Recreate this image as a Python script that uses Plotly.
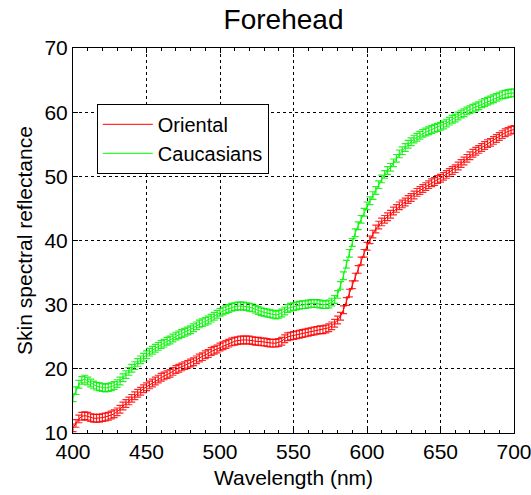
import plotly.graph_objects as go

wavelength = list(range(400, 701, 2))

oriental = [
    10.8, 11.5, 12.2, 12.6, 12.7, 12.6, 12.4, 12.3, 12.3, 12.3,
    12.4, 12.5, 12.6, 12.8, 13.0, 13.3, 13.7, 14.2, 14.6, 15.0,
    15.4, 15.8, 16.2, 16.5, 16.9, 17.2, 17.5, 17.8, 18.1, 18.4,
    18.7, 18.9, 19.1, 19.3, 19.6, 19.9, 20.1, 20.3, 20.5, 20.7,
    20.9, 21.1, 21.4, 21.7, 21.9, 22.2, 22.4, 22.7, 22.9, 23.1,
    23.4, 23.6, 23.8, 24.0, 24.2, 24.3, 24.4, 24.5, 24.5, 24.5,
    24.5, 24.4, 24.3, 24.3, 24.2, 24.2, 24.1, 24.0, 24.0, 24.0,
    24.1, 24.3, 24.7, 25.0, 25.1, 25.2, 25.3, 25.4, 25.5, 25.6,
    25.7, 25.8, 25.9, 26.0, 26.1, 26.1, 26.2, 26.4, 26.7, 27.1,
    27.6, 28.2, 29.2, 30.5, 31.8, 33.1, 34.3, 35.5, 36.8, 38.0,
    39.1, 40.1, 41.0, 41.8, 42.4, 42.9, 43.3, 43.7, 44.1, 44.6,
    45.0, 45.4, 45.7, 46.0, 46.4, 46.7, 47.1, 47.5, 47.8, 48.1,
    48.4, 48.7, 49.0, 49.2, 49.5, 49.7, 50.0, 50.3, 50.6, 50.9,
    51.2, 51.6, 52.0, 52.4, 52.8, 53.2, 53.6, 53.9, 54.2, 54.5,
    54.8, 55.1, 55.3, 55.6, 55.9, 56.2, 56.5, 56.8, 57.0, 57.2,
    57.3,
]

caucasians = [
    15.5, 16.6, 17.6, 18.2, 18.4, 18.1, 17.8, 17.5, 17.3, 17.2,
    17.1, 17.0, 17.1, 17.2, 17.4, 17.7, 18.1, 18.6, 19.1, 19.6,
    20.1, 20.5, 21.0, 21.4, 21.8, 22.2, 22.6, 22.9, 23.2, 23.5,
    23.8, 24.0, 24.3, 24.5, 24.8, 25.1, 25.3, 25.5, 25.7, 25.9,
    26.1, 26.4, 26.7, 27.0, 27.2, 27.4, 27.6, 27.9, 28.2, 28.5,
    28.8, 29.0, 29.2, 29.4, 29.6, 29.7, 29.8, 29.8, 29.8, 29.7,
    29.6, 29.5, 29.3, 29.1, 28.9, 28.8, 28.7, 28.6, 28.5, 28.4,
    28.5, 28.7, 29.0, 29.4, 29.6, 29.7, 29.8, 29.9, 30.0, 30.0,
    30.1, 30.2, 30.2, 30.2, 30.1, 30.0, 30.0, 30.1, 30.4, 30.8,
    31.6, 33.0, 34.5, 36.3, 38.0, 39.7, 41.2, 42.3, 43.3, 44.4,
    45.4, 46.2, 47.0, 47.8, 48.7, 49.6, 50.3, 50.9, 51.4, 52.1,
    52.8, 53.5, 54.0, 54.5, 55.0, 55.4, 55.8, 56.1, 56.4, 56.7,
    56.9, 57.1, 57.3, 57.5, 57.6, 57.8, 58.0, 58.3, 58.6, 58.9,
    59.1, 59.4, 59.7, 59.9, 60.2, 60.4, 60.6, 60.8, 61.0, 61.3,
    61.5, 61.7, 61.9, 62.1, 62.3, 62.5, 62.7, 62.8, 62.9, 63.0,
    63.0,
]

error_half_width = 0.6

x_ticks = [400, 450, 500, 550, 600, 650, 700]
y_ticks = [10, 20, 30, 40, 50, 60, 70]

FONT = "Liberation Sans, Arial, sans-serif"

fig = go.Figure()
fig.add_trace(go.Scatter(
    x=wavelength, y=oriental, mode="lines", name="Oriental",
    line=dict(color="#ff0000", width=1),
    error_y=dict(type="constant", value=error_half_width, color="rgba(255,0,0,0.85)",
                 thickness=1.2, width=3.5),
))
fig.add_trace(go.Scatter(
    x=wavelength, y=caucasians, mode="lines", name="Caucasians",
    line=dict(color="#00ff00", width=1),
    error_y=dict(type="constant", value=error_half_width, color="rgba(0,240,0,0.85)",
                 thickness=1.2, width=3.5),
))

axis_common = dict(
    showline=True, linecolor="black", linewidth=1, mirror="ticks",
    ticks="inside", ticklen=5, tickcolor="black",
    showgrid=True, gridcolor="black", griddash="dot", gridwidth=1,
    zeroline=False, automargin=False,
    tickfont=dict(family=FONT, size=21, color="black"),
)

fig.update_xaxes(
    range=[400, 700], tickvals=x_ticks, ticklabeloverflow="allow",
    title=dict(text="Wavelength (nm)", font=dict(family=FONT, size=21, color="black"), standoff=8),
    minor=dict(dtick=10, ticks="inside", ticklen=3, tickcolor="black", showgrid=False),
    **axis_common,
)
fig.update_yaxes(
    range=[10, 70], tickvals=y_ticks, ticklabeloverflow="allow",
    title=dict(text="Skin spectral reflectance", font=dict(family=FONT, size=21, color="black"), standoff=6),
    **axis_common,
)

fig.update_layout(
    width=531, height=495,
    margin=dict(l=73, r=17, t=48, b=62),
    paper_bgcolor="white", plot_bgcolor="white",
    title=dict(text="Forehead", x=0.534, xanchor="center", y=0.962, yanchor="middle",
               font=dict(family=FONT, size=28, color="black")),
    legend=dict(x=0.054, y=0.855, xanchor="left", yanchor="top",
                bgcolor="white", bordercolor="black", borderwidth=1,
                font=dict(family=FONT, size=20, color="black"),
                itemwidth=50, tracegroupgap=0),
    showlegend=True,
)

fig.write_html("out.html", config={"displayModeBar": False},
               post_script="document.body.style.margin='0';")
